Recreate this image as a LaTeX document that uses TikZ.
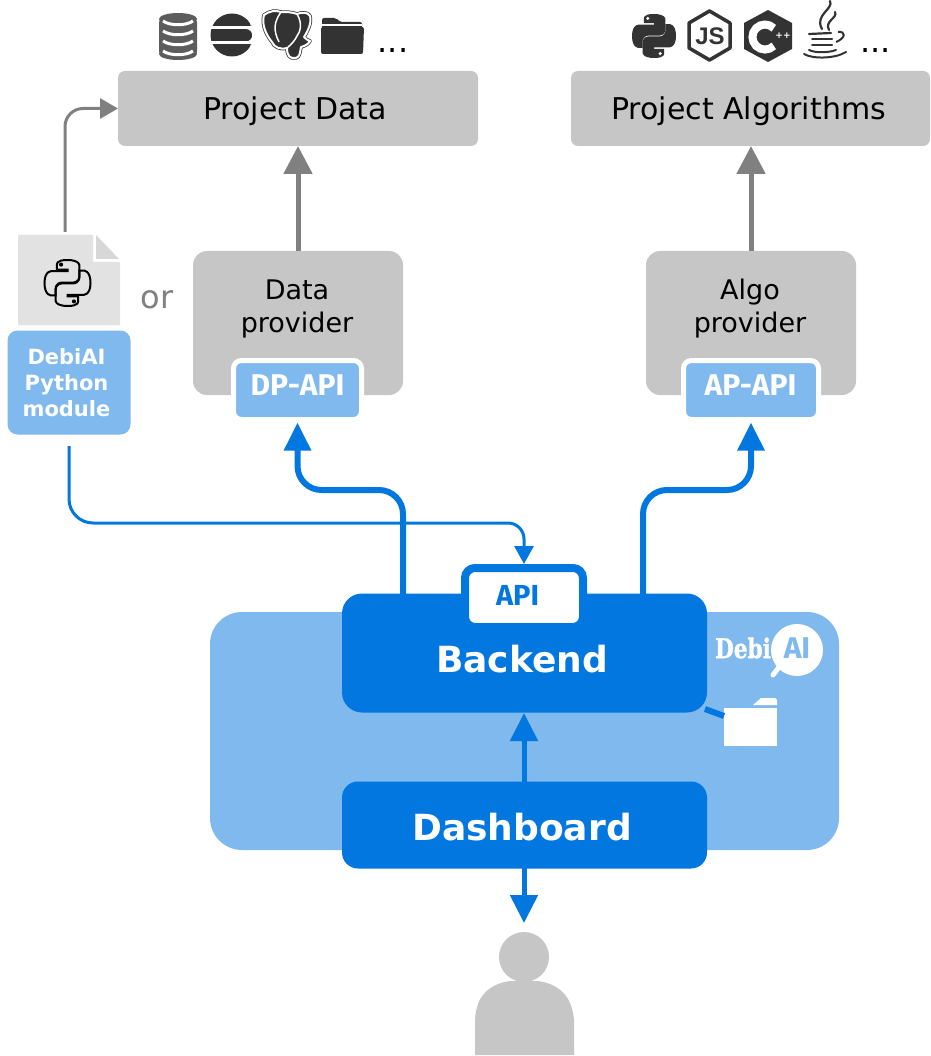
\documentclass[tikz,border=0pt]{standalone}
\usepackage{fontspec}
\setmainfont{DejaVu Sans}
\newfontfamily\apifont{Fira Sans}
\newfontfamily\slabfont[FakeBold=1.5]{DejaVu Serif}
\newfontfamily\jsfont{Liberation Sans}
\usetikzlibrary{arrows.meta}
\definecolor{boxgray}{HTML}{C6C6C6}
\definecolor{lblue}{HTML}{7FB9EE}
\definecolor{dblue}{HTML}{0277E0}
\definecolor{icon}{HTML}{333333}
\definecolor{arrowgray}{HTML}{808080}
\tikzset{
  box/.style={rectangle,inner sep=0pt,outer sep=0pt,align=center},
  topbox/.style={box,fill=boxgray,rounded corners=7pt,minimum height=75pt},
  toptext/.style={box,font=\fontsize{30}{34}\selectfont},
  dotstext/.style={box,font=\fontsize{32}{34}\selectfont},
  provider/.style={box,fill=boxgray,rounded corners=14pt,minimum width=210pt,minimum height=144pt},
  provtext/.style={box,font=\fontsize{27}{33}\selectfont},
  apibox/.style={box,fill=lblue,draw=white,line width=5pt,rounded corners=8pt},
  apitext/.style={box,text=white,font=\apifont\bfseries\fontsize{30}{30}\selectfont},
  blueblock/.style={box,fill=dblue,minimum width=365pt},
  bluetext/.style={box,text=white,font=\bfseries\fontsize{36}{40}\selectfont},
  grayarrow/.style={draw=arrowgray,line width=5pt,-{Triangle[length=28pt,width=28pt]}},
  bluearrow/.style={draw=dblue,line width=6pt,rounded corners=24pt,-{Triangle[length=28pt,width=26pt]}},
  thinblue/.style={draw=dblue,line width=3pt,-{Triangle[length=18pt,width=19pt]}},
  thingray/.style={draw=arrowgray,line width=3pt,rounded corners=18pt,-{Triangle[length=18pt,width=20pt]}},
  vblue/.style={draw=dblue,line width=5pt,-{Triangle[length=28pt,width=27pt]}}
}
\newcommand{\snakepath}{(49,0) .. controls (25,0) and (27,10) .. (27,10) -- (27,21) -- (50,21) -- (50,24) -- (17,24) .. controls (17,24) and (0,22) .. (0,50) .. controls (0,78) and (15,77) .. (15,77) -- (24,77) -- (24,64) .. controls (24,64) and (23,49) .. (39,49) -- (62,49) .. controls (62,49) and (76,49) .. (76,35) -- (76,13) .. controls (76,13) and (78,0) .. (49,0) -- cycle}
\newcommand{\pyfilled}[3]{% cx cy scale
  \begin{scope}[shift={(#1,#2)},x=#3 pt,y=-#3 pt,shift={(-50,-50)}]
    \fill[icon,even odd rule] \snakepath (36,10) circle[radius=4.5];
    \begin{scope}[rotate around={180:(50,50)}]
      \fill[icon,even odd rule] \snakepath (36,10) circle[radius=4.5];
    \end{scope}
  \end{scope}}
\newcommand{\pyoutline}[3]{%
  \begin{scope}[shift={(#1,#2)},x=#3 pt,y=-#3 pt,shift={(-50,-50)}]
    \draw[black,line width=2pt] \snakepath;
    \fill[black] (36,10) circle[radius=4.5];
    \begin{scope}[rotate around={180:(50,50)}]
      \draw[black,line width=2pt] \snakepath;
      \fill[black] (36,10) circle[radius=4.5];
    \end{scope}
  \end{scope}}
\newcommand{\elephant}{(264,15) .. controls (269,11) and (276,10) .. (281,12) .. controls (286,12) and (292,12) .. (297,14) .. controls (302,12) and (308,12) .. (310,16) .. controls (312,22) and (308,31) .. (304,37) .. controls (305,40) and (308,39) .. (310,41) .. controls (308,45) and (304,46) .. (301,47) .. controls (300,52) and (300,57) .. (296,58) .. controls (290,59) and (287,56) .. (287,48) .. controls (280,50) and (274,47) .. (272,42) .. controls (267,36) and (261,25) .. (264,15) -- cycle}
\begin{document}
\begin{tikzpicture}[x=1pt,y=-1pt]
\useasboundingbox (0,0) rectangle (930,1056);

% --- top icons, left
\fill[icon!80!white,rounded corners=7pt] (159,16) rectangle (197,58);
\fill[icon!80!white] (178,19) ellipse[x radius=19,y radius=6];
\fill[icon!80!white] (178,54) ellipse[x radius=19,y radius=6];
\foreach \yy in {21,31,41,51}{
  \draw[white,line width=3pt] (163,\yy) .. controls (170,\yy+5) and (186,\yy+5) .. (193,\yy);
}
\fill[icon] (232,35) circle[radius=21.5];
\fill[white] (205,26.5) rectangle (256,29);
\fill[white] (205,41.5) rectangle (256,44);
\fill[white] (246,29) arc[start angle=-90,end angle=90,radius=6.25] -- (256,41.5) -- (256,29) -- cycle;
\fill[white] (251,26.5) -- (254,10) -- (240,10) .. controls (247,16) and (250,21) .. (251,26.5) -- cycle;
\fill[white] (251,44) -- (254,60) -- (240,60) .. controls (247,54) and (250,49) .. (251,44) -- cycle;
\draw[icon,line width=3.5pt,line join=round] \elephant;
\draw[white,fill=icon,line width=2pt,line join=round] \elephant;
\draw[white,line width=1.5pt] (281,12) .. controls (274,22) and (273,30) .. (279,42);
\draw[white,line width=1.5pt] (297,14) .. controls (303,24) and (300,32) .. (297,36) .. controls (295,40) and (292,44) .. (287,48);
\fill[icon,rounded corners=2pt] (322,34) -- (322,18) -- (336,18) -- (340,22) -- (362,22) -- (362,34) -- cycle;
\fill[white] (322,24.5) rectangle (362,26);
\fill[icon,rounded corners=2pt] (321,27) -- (364,27) -- (363,54) -- (321,54) -- cycle;
\node[dotstext] (dotsa) at (393,51) {...};

% --- top icons, right
\pyfilled{654}{36}{0.44}
\draw[icon,line width=3.5pt,line join=round] (709.5,11) -- (730,23) -- (730,48) -- (709.5,60) -- (689,48) -- (689,23) -- cycle;
\node[box,font=\jsfont\bfseries\fontsize{24}{24}\selectfont,text=icon] (jslogo) at (710,36) {JS};
\fill[icon,line join=round] (768,10) -- (792,23) -- (792,49) -- (768,62) -- (744,49) -- (744,23) -- cycle;
\draw[white,line width=8pt] (773.8,28.2) arc[start angle=-45,end angle=-315,radius=12.5];
\node[box,text=white,font=\bfseries\fontsize{9}{9}\selectfont] (cpp) at (783,36) {++};
% java
\draw[icon,line width=2.2pt,line cap=round] (830,1) .. controls (834,9) and (814,15) .. (822,29);
\draw[icon,line width=2.2pt,line cap=round] (835,12) .. controls (838,18) and (824,21) .. (829,30);
\draw[icon,line width=2.2pt,line cap=round] (809,34) -- (831,33);
\draw[icon,line width=2pt] (838,32) .. controls (846,31) and (846,38) .. (836,42);
\draw[icon,line width=2pt,line cap=round] (812,39) -- (832,39);
\draw[icon,line width=2pt,line cap=round] (812,45) -- (832,45);
\draw[icon,line width=2pt,line cap=round] (809,50) .. controls (815,53) and (828,53) .. (836,50);
\draw[icon,line width=2pt,line cap=round] (804,54) .. controls (812,59) and (835,59) .. (846,52);
\node[dotstext] (dotsb) at (875.5,51) {...};

% --- project boxes
\node[topbox,minimum width=360pt] (pd) at (298,108.5) {};
\node[toptext] (pdtxt) at (295,111) {Project Data};
\node[topbox,minimum width=359pt] (pa) at (750.5,108.5) {};
\node[toptext] (patxt) at (748.5,111) {Project Algorithms};

% --- providers
\node[provider] (dp) at (298,323) {};
\node[provtext] (dptxt) at (297,309) {Data\\provider};
\node[provider] (ap) at (751,323) {};
\node[provtext] (aptxt) at (750,309) {Algo\\provider};
\node[apibox,minimum width=128pt,minimum height=59pt] (dpapi) at (297.5,390) {};
\node[apitext] (dplab) at (297.5,385) {DP-API};
\node[apibox,minimum width=135pt,minimum height=59pt] (apapi) at (751,390) {};
\node[apitext] (aplab) at (750.5,385) {AP-API};

\draw[grayarrow] (dp.north) -- (pd.south);
\draw[grayarrow] (ap.north) -- (ap.north |- pa.south);

% --- python file
\fill[boxgray!50!white] (18,235) -- (93,235) -- (93,262) -- (120,262) -- (120,325) -- (18,325) -- cycle;
\fill[boxgray!70!white] (96,235) -- (119,259) -- (96,259) -- cycle;
\coordinate (filetop) at (65,232);
\pyoutline{67.5}{283}{0.46}
\draw[thingray] (filetop) -- (filetop |- pd.west) -- (pd.west);
\node[box,fill=lblue,rounded corners=10pt,minimum width=123pt,minimum height=104pt] (mod) at (69,382.5) {};
\node[box,text=white,font=\bfseries\fontsize{21}{26}\selectfont] (modtxt) at (66.5,382.5) {DebiAI\\Python\\module};
\node[box,text=arrowgray,font=\fontsize{32}{36}\selectfont] (ortxt) at (157,300) {or};

% --- application
\fill[lblue,rounded corners=32pt] (210,612) rectangle (839,850);
\node[blueblock,minimum height=119pt,rounded corners=20pt] (be) at (524.5,653) {};
\node[bluetext] (betxt) at (522,659) {Backend};
\node[blueblock,minimum height=87pt,rounded corners=16pt] (db) at (524.5,825) {};
\node[bluetext] (dbtxt) at (522,827) {Dashboard};
\node[box,fill=white,draw=dblue,line width=8pt,rounded corners=10pt,minimum width=118pt,minimum height=59pt] (api) at (524,597.5) {};
\node[box,text=dblue,font=\apifont\bfseries\fontsize{29}{30}\selectfont] (apilab) at (517.5,595) {API};

\coordinate (modout) at (69,446);
\coordinate (persontop) at (524,923);
\draw[thinblue,rounded corners=24pt] (modout) -- (69,523) [rounded corners=16pt] -- (524,523) -- ([yshift=4pt]api.north);
\draw[bluearrow] (403,595) -- (403,490) -- (297.5,490) -- ([yshift=-3pt]dpapi.south);
\draw[bluearrow] (643,595) -- (643,490) -- (751,490) -- ([yshift=-3pt]apapi.south);
\draw[vblue] (524,782) -- (524,713);
\draw[vblue] (524,868) -- (persontop);

% --- logo and folder
\node[box,text=white,font=\slabfont\bfseries\fontsize{27}{28}\selectfont,xscale=0.8] (debi) at (743,648) {Debi};
\fill[white] (797,650) circle[radius=26];
\draw[white,line width=5pt,line cap=round] (782,663) -- (773,675);
\node[box,text=lblue,font=\apifont\bfseries\fontsize{30}{32}\selectfont] (ai) at (797,648) {AI};
\fill[white] (724,708) rectangle (777,746);
\fill[white] (753,705) -- (761,698) -- (775,698) -- (777,700) -- (777,705) -- cycle;
\coordinate (foldera) at (724,716);
\draw[dblue,line width=6pt] (705,709) -- (foldera);

% --- person
\fill[boxgray] (524,957) circle[radius=25];
\fill[boxgray] (475,1055) -- (475,1020) .. controls (476,995) and (490,984) .. (510,981) -- (538,981) .. controls (558,984) and (572,995) .. (574,1020) -- (574,1055) -- cycle;
\end{tikzpicture}
\end{document}
